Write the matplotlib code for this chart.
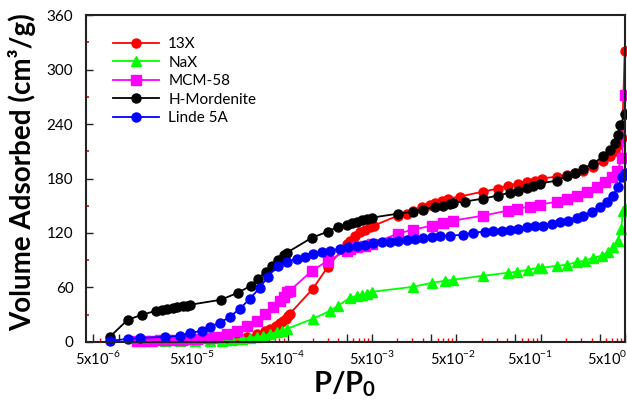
import matplotlib
matplotlib.use("Agg")
import matplotlib.pyplot as plt
from matplotlib.ticker import FixedLocator, NullFormatter

plt.rcParams['font.family'] = ['Lato', 'DejaVu Sans']
plt.rcParams['mathtext.fontset'] = 'custom'
plt.rcParams['mathtext.rm'] = 'Lato'
plt.rcParams['mathtext.bf'] = 'Lato:bold'

# 13X
x_13x = [1.8e-5, 2.5e-5, 3.28e-5, 4.31e-5, 5.37e-5, 6.15e-5, 7.24e-5, 8.08e-5, 8.77e-5, 9.5e-5,
         1.005e-4, 1.06e-4, 1.99e-4, 3.0e-4, 5.04e-4, 5.47e-4, 6.27e-4, 7.18e-4, 8.23e-4, 9.44e-4,
         1.05e-3, 2.03e-3, 2.59e-3, 3.05e-3, 3.91e-3, 4.86e-3, 5.57e-3, 6.75e-3, 7.95e-3, 0.011,
         0.0207, 0.0311, 0.0409, 0.0538, 0.0688, 0.0855, 0.1036, 0.156, 0.205, 0.255,
         0.318, 0.417, 0.548, 0.664, 0.761, 0.826, 0.921, 0.99]
y_13x = [2.2, 3.3, 5.5, 8.8, 12.1, 14.4, 17.7, 21, 23.2, 25.4,
         28.7, 30.9, 58.5, 82.8, 108.2, 111.5, 117, 121.5, 123.7, 127,
         128.1, 139.1, 141.3, 144.7, 149.1, 151.3, 153.5, 155.7, 157.9, 160.1,
         165.6, 168.9, 172.3, 174.5, 176.7, 177.8, 180, 182.2, 184.4, 186.6,
         188.8, 193.2, 198.8, 204.3, 209.8, 216.4, 224.2, 321]

# NaX
x_nax = [3.49e-6, 5.26e-6, 7.93e-6, 1.19e-5, 1.66e-5, 2.2e-5, 2.86e-5, 3.56e-5, 4.31e-5, 5.08e-5,
         6.15e-5, 7.45e-5, 8.53e-5, 9.79e-5, 1.99e-4, 3.17e-4, 3.94e-4, 5.47e-4, 6.62e-4, 7.58e-4,
         8.7e-4, 9.98e-4, 3.05e-3, 5.14e-3, 7.32e-3, 9.11e-3, 0.0207, 0.0409, 0.0524, 0.0707,
         0.0929, 0.1036, 0.156, 0.205, 0.27, 0.336, 0.417, 0.533, 0.628, 0.721,
         0.826, 0.897, 0.947, 0.99]
y_nax = [0.5, 0.5, 0.8, 1, 1.5, 2.2, 3.3, 4.4, 5.5, 6.6,
         8.8, 11, 12.1, 14.4, 25.4, 34.2, 39.8, 48.6, 50.8, 51.9,
         53, 55.2, 60.7, 65.1, 67.4, 68.5, 72.9, 76.2, 77.3, 79.5,
         81.7, 81.7, 83.9, 85, 88.3, 89.4, 92.8, 95, 99.4, 104.9,
         111.5, 124.8, 144.7, 148]

# MCM-58
x_mcm = [1.63e-6, 2.02e-6, 2.45e-6, 3.05e-6, 3.69e-6, 4.59e-6, 5.56e-6, 6.92e-6, 8.37e-6, 1.04e-5,
         1.26e-5, 1.45e-5, 1.9e-5, 2.5e-5, 3.28e-5, 4.31e-5, 5.37e-5, 6.67e-5, 8.08e-5, 9.0e-5,
         9.79e-5, 1.06e-4, 1.94e-4, 3.0e-4, 5.04e-4, 5.47e-4, 6.62e-4, 8.23e-4, 9.98e-4, 2.03e-3,
         3.05e-3, 5.14e-3, 6.94e-3, 9.11e-3, 0.0207, 0.0409, 0.0524, 0.0746, 0.098, 0.156,
         0.205, 0.27, 0.354, 0.466, 0.579, 0.701, 0.804, 0.921, 0.99]
y_mcm = [1.5, 1.5, 1.5, 1.8, 2, 2.2, 2.5, 2.8, 3.3, 3.8,
         4.4, 5, 8.8, 12.1, 17.7, 23.2, 30.9, 38.6, 45.3, 49.7,
         55.2, 56.3, 78.4, 89.4, 100.5, 102.7, 104.9, 106, 108.2, 119.3,
         123.7, 128.1, 131.4, 133.6, 139.1, 144.7, 146.9, 149.1, 151.3, 154.6,
         157.9, 161.2, 165.6, 171.2, 176.7, 182.2, 188.8, 202.1, 271.6]

# H-Mordenite
x_hm = [7.8e-7, 1.27e-6, 1.86e-6, 2.73e-6, 3.22e-6, 3.69e-6, 4.35e-6, 4.85e-6, 5.71e-6, 6.37e-6,
        6.92e-6, 1.61e-5, 2.57e-5, 3.66e-5, 4.43e-5, 5.51e-5, 6.5e-5, 7.66e-5, 9.01e-5, 9.79e-5,
        1.94e-4, 3.0e-4, 3.94e-4, 5.04e-4, 5.78e-4, 6.62e-4, 7.58e-4, 8.7e-4, 9.98e-4, 2.03e-3,
        3.05e-3, 4.02e-3, 5.57e-3, 6.94e-3, 8.4e-3, 9.11e-3, 0.0126, 0.0207, 0.0311, 0.0432,
        0.0538, 0.0688, 0.081, 0.098, 0.156, 0.205, 0.255, 0.318, 0.417, 0.548,
        0.664, 0.761, 0.826, 0.873, 0.99]
y_hm = [5.5, 24.3, 29.8, 34.2, 35.3, 36.4, 37.5, 38.6, 39.8, 39.8,
        40.9, 46.4, 54.1, 61.8, 69.6, 77.3, 83.9, 90.5, 96.1, 98.3,
        114.8, 121.5, 127, 129.2, 131.4, 132.5, 134.7, 135.8, 136.9, 141.3,
        143.5, 145.8, 149.1, 150.2, 152.4, 153.5, 154.6, 157.9, 161.2, 164.5,
        166.7, 170, 172.3, 174.5, 177.8, 183.3, 186.6, 191, 196.5, 204.3,
        210.9, 218.6, 227.5, 238.5, 250.7]

# Linde 5A
x_l5a = [7.8e-7, 1.27e-6, 1.77e-6, 3.49e-6, 5.26e-6, 6.92e-6, 9.6e-6, 1.19e-5, 1.57e-5, 2.06e-5,
         2.71e-5, 3.56e-5, 4.68e-5, 5.82e-5, 7.66e-5, 9.79e-5, 1.29e-4, 1.6e-4, 1.99e-4, 2.55e-4,
         3.17e-4, 4.16e-4, 5.18e-4, 6.62e-4, 8.23e-4, 1.03e-3, 1.31e-3, 1.63e-3, 2.03e-3, 2.59e-3,
         3.23e-3, 4.02e-3, 5.14e-3, 6.39e-3, 8.4e-3, 0.012, 0.0157, 0.0218, 0.0272, 0.0347,
         0.0432, 0.0538, 0.0688, 0.0855, 0.106, 0.136, 0.169, 0.211, 0.27, 0.318,
         0.406, 0.505, 0.611, 0.721, 0.826, 0.921, 0.99]
y_l5a = [1.1, 3.3, 4.4, 5.5, 6.6, 9.9, 12.1, 16.6, 21, 27.6,
         36.4, 47.5, 59.6, 71.8, 83.9, 88.3, 91.6, 93.9, 97.2, 99.4,
         100.5, 102.7, 104.9, 106, 107.1, 109.3, 110.4, 110.4, 111.5, 112.6,
         113.7, 114.8, 115.9, 117, 117, 118.1, 120.4, 121.5, 122.6, 122.6,
         123.7, 124.8, 127, 128.1, 128.1, 130.3, 132.5, 133.6, 136.9, 139.1,
         143.5, 149.1, 154.6, 161.2, 171.2, 182.2, 186]

yticks = [0, 60, 120, 180, 240, 300, 360]
xtick_text = ['5x10$^{\\mathregular{-6}}$', '5x10$^{\\mathregular{-5}}$', '5x10$^{\\mathregular{-4}}$',
              '5x10$^{\\mathregular{-3}}$', '5x10$^{\\mathregular{-2}}$', '5x10$^{\\mathregular{-1}}$',
              '5x10$^{\\mathregular{0}}$']
xtick_text_pos = [5.75e-7, 7.31e-6, 8.53e-5, 9.98e-4, 9.11e-3, 0.0746, 0.611]

fig = plt.figure(figsize=(6.27, 4.09), dpi=100)
ax = fig.add_axes([0.137, 0.164, 0.86, 0.799])

series = [
    (x_13x, y_13x, '#ff0000', 'o', '13X'),
    (x_nax, y_nax, '#00ff00', '^', 'NaX'),
    (x_mcm, y_mcm, '#ff00ff', 's', 'MCM-58'),
    (x_hm, y_hm, '#000000', 'o', 'H-Mordenite'),
    (x_l5a, y_l5a, '#0000ff', 'o', 'Linde 5A'),
]
for xs, ys, c, m, lab in series:
    ax.plot(xs, ys, color=c, marker=m, markersize=6.5, linewidth=1.3, label=lab, clip_on=False)

ax.set_xscale('log')
ax.set_xlim(4.07e-7, 1.0)
ax.set_ylim(0, 360)

# black ticks at 1x and 5x of each decade, red ones for the rest
major = []
minor = []
for e in range(-7, 1):
    for k in range(1, 10):
        v = k * 10.0 ** e
        if v < 4.07e-7 or v > 1.0:
            continue
        if k in (1, 5):
            major.append(v)
        else:
            minor.append(v)
ax.xaxis.set_major_locator(FixedLocator(major))
ax.xaxis.set_minor_locator(FixedLocator(minor))
ax.xaxis.set_major_formatter(NullFormatter())
ax.xaxis.set_minor_formatter(NullFormatter())
ax.tick_params(axis='x', which='major', direction='in', length=6, width=1, color='#222222')
ax.tick_params(axis='x', which='minor', direction='in', length=3, width=1, color='#ff0000')

ax.set_yticks(yticks)
ax.set_yticks([30, 90, 150, 210, 270, 330], minor=True)
ax.tick_params(axis='y', which='major', direction='in', length=5, width=1, color='#222222',
               labelsize=11, pad=9)
ax.tick_params(axis='y', which='minor', direction='in', length=2.5, width=1.2, color='#ff0000')

for s in ax.spines.values():
    s.set_linewidth(1.5)
    s.set_color('#222222')

for xp, t in zip(xtick_text_pos, xtick_text):
    ax.text(xp, -0.05, t, transform=ax.get_xaxis_transform(), ha='center', va='center', fontsize=10.5)

ax.legend(loc='upper left', bbox_to_anchor=(0.025, 0.975), frameon=False, fontsize=11,
          handlelength=3.0, labelspacing=0.3, handletextpad=0.6)

fig.text(0.035, 0.58, 'Volume Adsorbed (cm³/g)', rotation=90, ha='center', va='center',
         fontsize=20, fontweight='bold')
fig.text(0.55, 0.06, '$\\mathbf{P/P_0}$', ha='center', va='center', fontsize=21)

fig.savefig('out.png', dpi=100)
